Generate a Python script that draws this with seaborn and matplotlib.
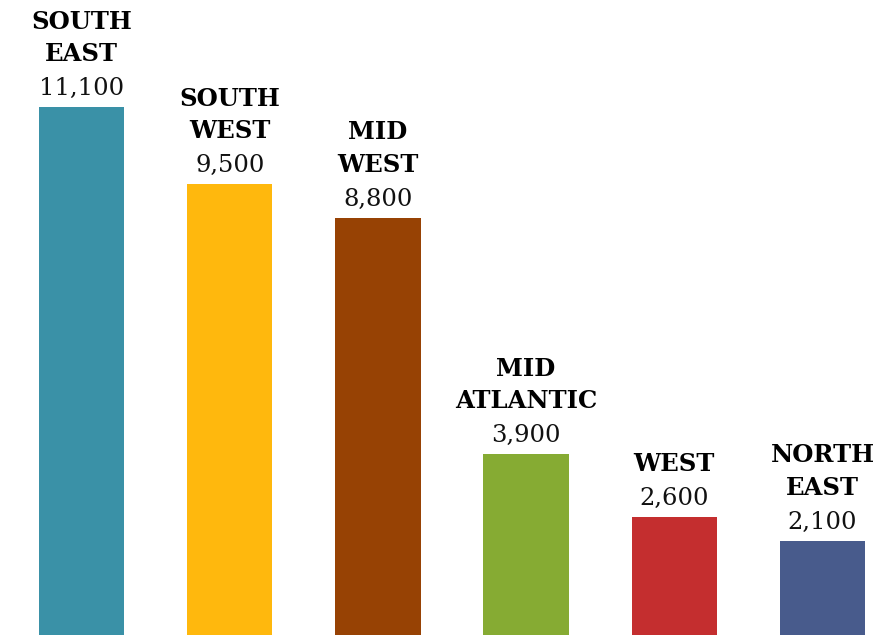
import numpy as np
import pandas as pd
import matplotlib
matplotlib.use("Agg")
import matplotlib.pyplot as plt
import seaborn as sns

# ── Data ──────────────────────────────────────────────────────────────────────
regions = ["SOUTH\nEAST", "SOUTH\nWEST", "MID\nWEST", "MID\nATLANTIC", "WEST", "NORTH\nEAST"]
values = [11100, 9500, 8800, 3900, 2600, 2100]
colors = ["#3A91A7", "#FFB80D", "#974204", "#86AB33", "#C42E2F", "#485B8C"]

df = pd.DataFrame({"region": regions, "value": values})

sns.set_theme(style="white")
plt.rcParams["font.family"] = ["DejaVu Serif"]

fig = plt.figure(figsize=(8.84, 6.35), dpi=100)
ax = fig.add_axes([0, 0, 1, 1])

sns.barplot(data=df, x="region", y="value", hue="region", palette=colors,
            legend=False, width=0.575, saturation=1, linewidth=0, ax=ax)

# bars run off the bottom edge a little, like the original
ax.set_xlim(-0.55, 5.415)
ax.set_ylim(151, 13320)
ax.axis("off")

# value + region label above each bar
for i, (lab, v) in enumerate(zip(regions, values)):
    ax.annotate(f"{v:,}", (i, v), xytext=(0, 5.3), textcoords="offset points",
                ha="center", va="bottom", fontsize=17.5, color="#111111")
    ax.annotate(lab, (i, v), xytext=(0, 29.5), textcoords="offset points",
                ha="center", va="bottom", fontsize=17.5, fontweight="bold",
                color="#000000", linespacing=1.45)

fig.savefig("out.png", dpi=100)
